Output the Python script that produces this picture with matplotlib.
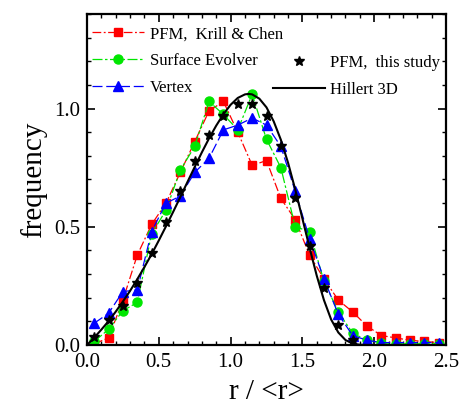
import numpy as np
import matplotlib
matplotlib.use("Agg")
import matplotlib.pyplot as plt
from matplotlib.ticker import MultipleLocator, FormatStrFormatter

plt.rcParams['font.family'] = ['Liberation Serif', 'DejaVu Serif']

# bin centres of the size distribution
r_bins = [0.05, 0.15, 0.25, 0.35, 0.45, 0.55, 0.65, 0.75, 0.85, 0.95,
          1.05, 1.15, 1.25, 1.35, 1.45, 1.55, 1.65, 1.75, 1.85, 1.95,
          2.05, 2.15, 2.25, 2.35, 2.45]

pfm_krill_chen = [0.005, 0.03, 0.19, 0.38, 0.51, 0.60, 0.73, 0.86, 0.99, 1.03,
                  0.90, 0.76, 0.78, 0.62, 0.53, 0.38, 0.28, 0.19, 0.14, 0.08,
                  0.04, 0.03, 0.02, 0.015, 0.01]

surface_evolver = [0.015, 0.066, 0.145, 0.18, 0.47, 0.57, 0.74, 0.84, 1.03, 0.975,
                   0.91, 1.06, 0.87, 0.75, 0.50, 0.48, 0.27, 0.14, 0.05, 0.02,
                   0.01, 0.005, 0.005, 0.005, 0.005]

vertex = [0.092, 0.134, 0.226, 0.233, 0.48, 0.60, 0.63, 0.73, 0.79, 0.91,
          0.93, 0.96, 0.93, 0.84, 0.65, 0.45, 0.28, 0.13, 0.04, 0.02,
          0.01, 0.01, 0.01, 0.01, 0.01]

r_pfm_study = r_bins[:19]
pfm_this_study = [0.035, 0.106, 0.165, 0.264, 0.39, 0.52, 0.65, 0.78, 0.89, 0.97,
                  1.02, 1.02, 0.97, 0.84, 0.62, 0.42, 0.24, 0.085, 0.02]

# Hillert 3D distribution sampled along r/<r>
r_hillert = [0.0, 0.05, 0.10, 0.15, 0.20, 0.25, 0.30, 0.35, 0.40, 0.45,
             0.50, 0.55, 0.60, 0.65, 0.70, 0.75, 0.80, 0.85, 0.90, 0.95,
             1.00, 1.05, 1.10, 1.125, 1.15, 1.20, 1.25, 1.30, 1.35, 1.40,
             1.45, 1.50, 1.55, 1.60, 1.65, 1.70, 1.75, 1.80, 1.85, 1.90,
             1.95, 2.00, 2.25]
hillert_3d = [0.0, 0.031, 0.065, 0.101, 0.141, 0.184, 0.229, 0.278, 0.330, 0.384,
              0.442, 0.502, 0.563, 0.626, 0.690, 0.753, 0.815, 0.874, 0.928, 0.976,
              1.016, 1.045, 1.060, 1.062, 1.060, 1.042, 1.005, 0.946, 0.868, 0.771,
              0.658, 0.535, 0.411, 0.293, 0.190, 0.108, 0.053, 0.021, 0.006, 0.001,
              0.0001, 0.0, 0.0]

fig = plt.figure(figsize=(4.61, 4.05), dpi=100)
ax = fig.add_axes([87 / 461, 60 / 405, 359 / 461, 331 / 405])

red, green, blue = '#FF0000', '#00E600', '#0000FF'

l_red, = ax.plot(r_bins, pfm_krill_chen, color=red, lw=0.9, ls=(0, (7, 2, 1.5, 2)),
                 marker='s', ms=5.5, mec=red, mfc=red)
l_green, = ax.plot(r_bins, surface_evolver, color=green, lw=0.9, ls=(0, (8, 2, 2, 2)),
                   marker='o', ms=6.5, mec=green, mfc=green)
l_blue, = ax.plot(r_bins, vertex, color=blue, lw=0.9, ls=(0, (8, 3)),
                  marker='^', ms=7.5, mec=blue, mfc=blue)
l_hill, = ax.plot(r_hillert, hillert_3d, color='black', lw=1.5, zorder=4)
l_star, = ax.plot(r_pfm_study, pfm_this_study, ls='none', marker='*', ms=7,
                  color='black', zorder=5)

ax.set_xlim(0, 2.5)
ax.set_ylim(0, 1.4)
ax.xaxis.set_major_locator(MultipleLocator(0.5))
ax.xaxis.set_minor_locator(MultipleLocator(0.1))
ax.yaxis.set_major_locator(MultipleLocator(0.5))
ax.yaxis.set_minor_locator(MultipleLocator(0.1))
ax.xaxis.set_major_formatter(FormatStrFormatter('%.1f'))
ax.yaxis.set_major_formatter(FormatStrFormatter('%.1f'))
ax.tick_params(which='both', direction='in', top=True, right=True, labelsize=15)
ax.tick_params(which='major', length=6, width=1.2, pad=6)
ax.tick_params(which='minor', length=3, width=1.0)
ax.tick_params(axis='y', which='major', pad=5)
for s in ax.spines.values():
    s.set_linewidth(1.6)

ax.set_xlabel('r / <r>', fontsize=21, labelpad=5)
ax.set_ylabel('frequency', fontsize=21, labelpad=5)

leg1 = ax.legend([l_red, l_green, l_blue],
                 ['PFM,  Krill & Chen', 'Surface Evolver', 'Vertex'],
                 loc='upper left', bbox_to_anchor=(0.014, 0.963), frameon=False,
                 fontsize=12, borderpad=0, borderaxespad=0, handlelength=3.1,
                 handletextpad=0.35, labelspacing=0.65, numpoints=1)
ax.add_artist(leg1)
ax.legend([l_star, l_hill], ['PFM,  this study', 'Hillert 3D'],
          loc='upper left', bbox_to_anchor=(0.518, 0.877), frameon=False,
          fontsize=12, borderpad=0, borderaxespad=0, handlelength=3.1,
          handletextpad=0.35, labelspacing=0.65, numpoints=1)

fig.savefig('out.png', dpi=100)
